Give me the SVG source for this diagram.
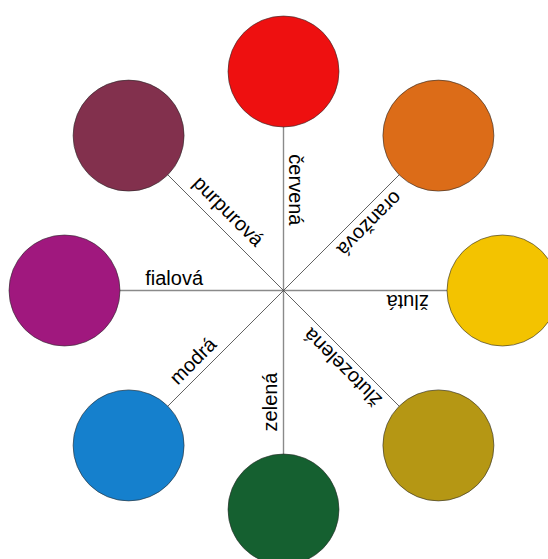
<svg xmlns="http://www.w3.org/2000/svg" width="548" height="559" viewBox="0 0 548 559">
<style>
.axis{stroke:#8a8a8a;stroke-width:1.4;fill:none}
.diag{stroke:#3a3a3a;stroke-width:0.8;fill:none}
.node circle{stroke:#2a2a2a;stroke-width:0.6}
.lbl{font-family:"Liberation Sans",Arial,sans-serif;font-size:20px;fill:#000;text-anchor:end}
</style>
<rect width="548" height="559" fill="#fff"/>
<g id="connectors">
<line class="axis" x1="283.5" y1="290.5" x2="283.5" y2="71.5"/>
<line class="axis" x1="283.5" y1="290.5" x2="502.5" y2="290.5"/>
<line class="axis" x1="283.5" y1="290.5" x2="283.5" y2="509.5"/>
<line class="axis" x1="283.5" y1="290.5" x2="64.5" y2="290.5"/>
<line class="diag" x1="283.5" y1="290.5" x2="438.4" y2="135.6"/>
<line class="diag" x1="283.5" y1="290.5" x2="438.4" y2="445.4"/>
<line class="diag" x1="283.5" y1="290.5" x2="128.6" y2="445.4"/>
<line class="diag" x1="283.5" y1="290.5" x2="128.6" y2="135.6"/>
</g>
<g id="cervena" class="node"><circle cx="283.5" cy="71.5" r="55.5" fill="#EE1010"/></g>
<g id="oranzova" class="node"><circle cx="438.4" cy="135.6" r="55.5" fill="#DC6C18"/></g>
<g id="zluta" class="node"><circle cx="502.5" cy="290.5" r="55.5" fill="#F3C300"/></g>
<g id="zlutozelena" class="node"><circle cx="438.4" cy="445.4" r="55.5" fill="#B59714"/></g>
<g id="zelena" class="node"><circle cx="283.5" cy="509.5" r="55.5" fill="#156030"/></g>
<g id="modra" class="node"><circle cx="128.6" cy="445.4" r="55.5" fill="#1580CD"/></g>
<g id="fialova" class="node"><circle cx="64.5" cy="290.5" r="55.5" fill="#A0187E"/></g>
<g id="purpurova" class="node"><circle cx="128.6" cy="135.6" r="55.5" fill="#82304D"/></g>
<g id="labels">
<text class="lbl" transform="translate(283.5,290.5) rotate(90)" x="-65" y="-5">červená</text>
<text class="lbl" transform="translate(283.5,290.5) rotate(135)" x="-67" y="-7">oranžová</text>
<text class="lbl" transform="translate(283.5,290.5) rotate(180)" x="-103" y="-4">žlutá</text>
<text class="lbl" transform="translate(283.5,290.5) rotate(-135)" x="-45.5" y="-6">žlutozelená</text>
<text class="lbl" transform="translate(283.5,290.5) rotate(-90)" x="-82" y="-7">zelená</text>
<text class="lbl" transform="translate(283.5,290.5) rotate(-45)" x="-85.5" y="-7.5">modrá</text>
<text class="lbl" transform="translate(283.5,290.5)" x="-80.5" y="-5.5">fialová</text>
<text class="lbl" transform="translate(283.5,290.5) rotate(45)" x="-50" y="-10.5">purpurová</text>
</g>
</svg>
